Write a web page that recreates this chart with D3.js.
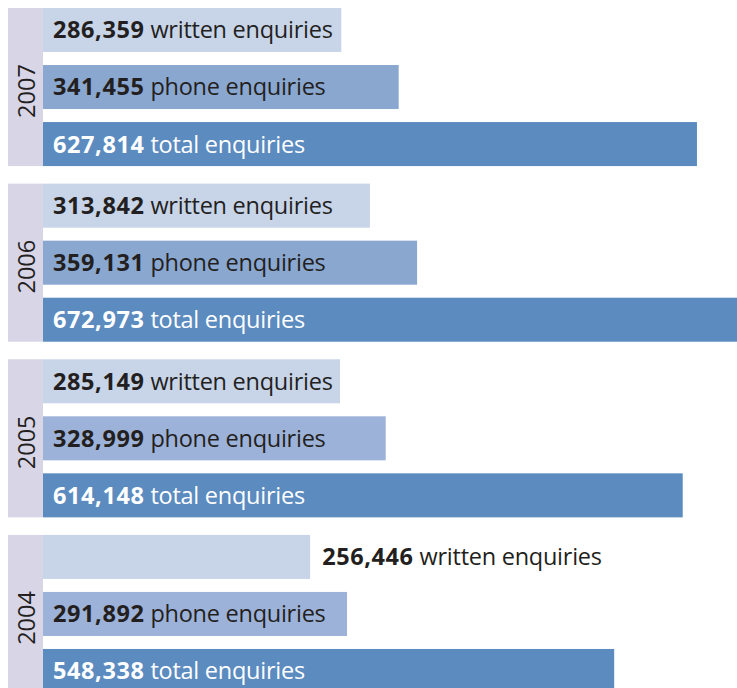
<!DOCTYPE html>
<html>
<head>
<meta charset="utf-8">
<script src="https://cdn.jsdelivr.net/npm/d3@7"></script>
<style>
  html, body { margin: 0; padding: 0; background: #ffffff; overflow: hidden; }
  svg { display: block; }
  text { font-family: "Open Sans", "Noto Sans", sans-serif; }
</style>
</head>
<body>
<svg id="chart" width="737" height="688"></svg>
<script>
// Enquiries received per year
const years = ["2007", "2006", "2005", "2004"];
const written = [286359, 313842, 285149, 256446];
const phone = [341455, 359131, 328999, 291892];
const total = [627814, 672973, 614148, 548338];
const seriesKeys = ["written", "phone", "total"];
const seriesNames = ["written enquiries", "phone enquiries", "total enquiries"];

const W = 737, H = 688;
const stripLeft = 8, barLeft = 43;

const svg = d3.select("#chart");

// the longest bar runs slightly past the right edge of the page
const x = d3.scaleLinear()
  .domain([0, d3.max(total)])
  .range([barLeft, 744]);

const yGroup = d3.scaleBand()
  .domain(years)
  .range([8, 693])
  .paddingInner(0.1)
  .paddingOuter(0);

const yBar = d3.scaleBand()
  .domain(seriesKeys)
  .range([0, yGroup.bandwidth()])
  .paddingInner(0.228)
  .paddingOuter(0);

const phoneColor = d3.scaleOrdinal()
  .domain(years)
  .range(["#8aa7d0", "#8aa7d0", "#9db2d8", "#9db2d8"]);
const fillFor = (key, year) =>
  key === "written" ? "#c8d4e8" : key === "phone" ? phoneColor(year) : "#5b8bbf";
const textFor = key => key === "total" ? "#ffffff" : "#231f20";

const fmt = d3.format(",");

const rows = years.map((year, i) => ({
  year,
  bars: [
    { key: "written", name: seriesNames[0], value: written[i] },
    { key: "phone", name: seriesNames[1], value: phone[i] },
    { key: "total", name: seriesNames[2], value: total[i] }
  ]
}));

const groups = svg.selectAll("g.year")
  .data(rows)
  .join("g")
  .attr("class", "year")
  .attr("transform", d => `translate(0,${yGroup(d.year)})`);

// year strip on the left
groups.append("rect")
  .attr("x", stripLeft)
  .attr("y", 0)
  .attr("width", barLeft - stripLeft)
  .attr("height", yGroup.bandwidth())
  .attr("fill", "#d8d5e7");

groups.append("text")
  .attr("transform", `translate(${(stripLeft + barLeft) / 2 + 1},${yGroup.bandwidth() / 2 + 4}) rotate(-90)`)
  .attr("text-anchor", "middle")
  .attr("dy", "0.36em")
  .attr("font-size", 23.5)
  .attr("fill", "#231f20")
  .text(d => d.year);

const bar = groups.selectAll("g.bar")
  .data(d => d.bars.map(b => ({ ...b, year: d.year })))
  .join("g")
  .attr("class", "bar")
  .attr("transform", d => `translate(0,${yBar(d.key)})`);

bar.append("rect")
  .attr("x", barLeft)
  .attr("y", 0)
  .attr("width", d => x(d.value) - barLeft)
  .attr("height", yBar.bandwidth())
  .attr("fill", d => fillFor(d.key, d.year));

const label = bar.append("text")
  .attr("y", yBar.bandwidth() / 2)
  .attr("dy", "0.36em")
  .attr("font-size", 23.5)
  .attr("fill", d => textFor(d.key));

label.append("tspan")
  .attr("font-weight", 700)
  .attr("letter-spacing", 0.6)
  .text(d => fmt(d.value));
label.append("tspan")
  .attr("letter-spacing", -0.25)
  .text(d => " " + d.name);

// labels sit inside the bar when they fit, otherwise just past its end
label.each(function (d) {
  const len = this.getComputedTextLength();
  const barW = x(d.value) - barLeft;
  const inside = 10 + len <= barW;
  d3.select(this).attr("x", inside ? barLeft + 10 : x(d.value) + 12);
});
</script>
</body>
</html>
